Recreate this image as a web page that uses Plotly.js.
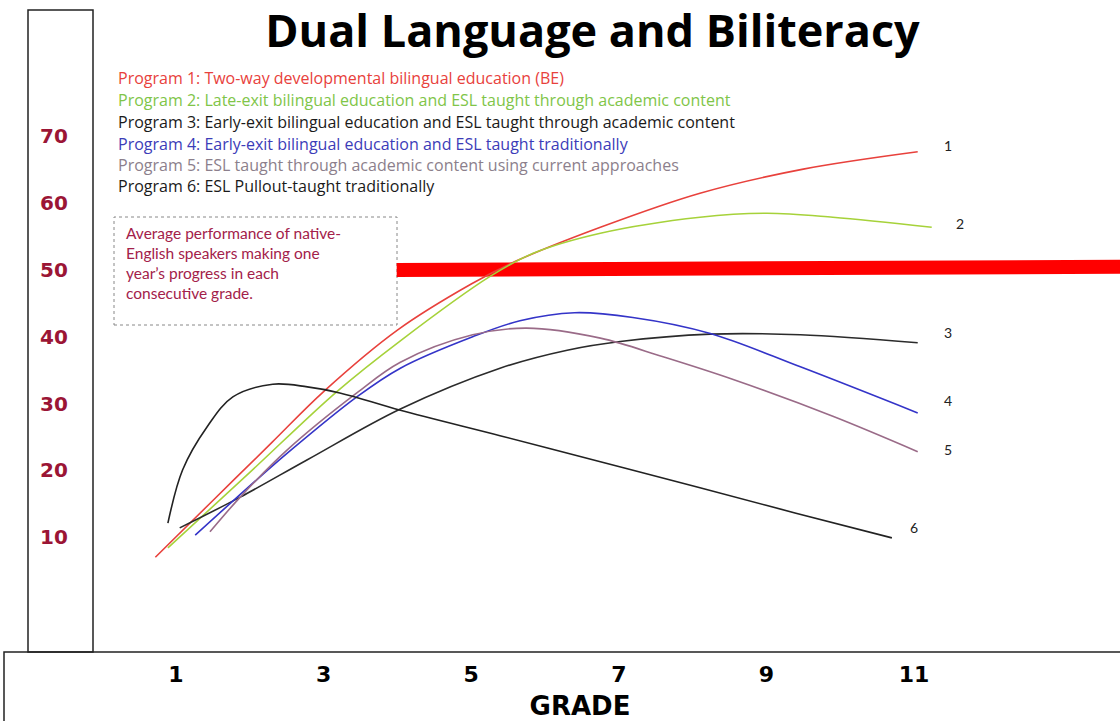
<!DOCTYPE html>
<html>
<head>
<meta charset="utf-8">
<script src="https://cdn.plot.ly/plotly-3.0.1.min.js"></script>
<style>html,body{margin:0;padding:0;background:#fff;}#chart{width:1120px;height:721px;}</style>
</head>
<body>
<div id="chart"></div>
<script>
// ---- data (grade, score) ----
const gradeTicks = [1, 3, 5, 7, 9, 11];
const scoreTicks = [10, 20, 30, 40, 50, 60, 70];

const p1Grade = [0.72, 1.5, 2.3, 3.0, 4.0, 5.0, 5.6, 6.75, 8.1, 9.5, 11.05];
const p1Score = [7.0, 15.5, 24.2, 31.8, 41.0, 47.9, 51.3, 56.4, 61.5, 65.1, 67.7];

const p2Grade = [0.89, 2.0, 3.18, 4.04, 5.25, 5.84, 6.75, 8.1, 9.01, 9.9, 11.24];
const p2Score = [8.4, 19.7, 31.8, 39.4, 49.0, 52.5, 55.5, 57.9, 58.5, 57.9, 56.4];

const p3Grade = [1.05, 1.87, 2.78, 4.04, 5.39, 6.3, 7.02, 8.24, 9.46, 11.05];
const p3Score = [11.4, 16.0, 21.6, 29.2, 35.3, 38.0, 39.3, 40.4, 40.3, 39.1];

const p4Grade = [1.26, 1.83, 2.5, 3.45, 4.04, 5.02, 5.66, 6.4, 7.19, 8.24, 9.46, 11.05];
const p4Score = [10.3, 16.0, 22.5, 31.0, 35.3, 40.0, 42.4, 43.6, 42.9, 40.5, 35.5, 28.6];

const p5Grade = [1.46, 1.87, 2.5, 3.45, 4.04, 5.02, 5.75, 6.75, 7.6, 8.55, 9.9, 11.05];
const p5Score = [10.8, 16.0, 23.0, 31.6, 36.2, 40.3, 41.3, 39.8, 37.0, 33.6, 28.1, 22.8];

const p6Grade = [0.89, 1.09, 1.42, 1.77, 2.31, 2.78, 3.22, 4.04, 5.39, 6.75, 8.1, 9.4, 10.7];
const p6Score = [12.1, 20.1, 26.5, 31.0, 32.9, 32.5, 31.6, 29.0, 25.2, 21.3, 17.4, 13.6, 9.9];

const nativeGrade = [3.99, 13.8];
const nativeScore = [50, 50.5];

const programNames = [
  'Program 1: Two-way developmental bilingual education (BE)',
  'Program 2: Late-exit bilingual education and ESL taught through academic content',
  'Program 3: Early-exit bilingual education and ESL taught through academic content',
  'Program 4: Early-exit bilingual education and ESL taught traditionally',
  'Program 5: ESL taught through academic content using current approaches',
  'Program 6: ESL Pullout-taught traditionally'
];
const curveLabels = ['1', '2', '3', '4', '5', '6'];

// ---- styles ----
const lineColors = ['#e8413c', '#a6d23a', '#2b2b2b', '#3434c8', '#9a6b88', '#222222'];
const textColors = ['#e8413c', '#80c548', '#1a1a1a', '#3c3cb8', '#8c7f8c', '#1a1a1a'];

const xs = [p1Grade, p2Grade, p3Grade, p4Grade, p5Grade, p6Grade];
const ys = [p1Score, p2Score, p3Score, p4Score, p5Score, p6Score];

const traces = [{
  x: nativeGrade, y: nativeScore, mode: 'lines', name: 'Native-English speakers',
  line: {color: '#ff0000', width: 14}, showlegend: false, hoverinfo: 'skip'
}];
for (let i = 0; i < 6; i++) {
  traces.push({
    x: xs[i], y: ys[i], mode: 'lines', name: programNames[i],
    line: {color: lineColors[i], width: 1.6, shape: 'spline', smoothing: 1},
    showlegend: false
  });
}

const W = 1080, H = 652, L = 40;
const px = v => (v - L) / W;
const py = v => 1 - v / H;

const legendY = [78, 100, 122, 144, 165, 186];
const annotations = [];
for (let i = 0; i < 6; i++) {
  annotations.push({
    xref: 'paper', yref: 'paper', x: px(116), y: py(legendY[i]),
    xanchor: 'left', yanchor: 'middle', showarrow: false,
    text: programNames[i],
    font: {family: 'Open Sans', size: 16, color: textColors[i]}
  });
}
annotations.push({
  xref: 'paper', yref: 'paper', x: px(124), y: py(222),
  xanchor: 'left', yanchor: 'top', showarrow: false, align: 'left',
  text: 'Average performance of native-<br>English speakers making one<br>year\u2019s progress in each<br>consecutive grade.',
  font: {family: 'Lato', size: 15.5, color: '#a3214a'}
});
const labelPos = [[11.46, 68.7], [11.62, 56.9], [11.46, 40.7], [11.46, 30.5], [11.46, 23.1], [11.0, 11.4]];
for (let i = 0; i < 6; i++) {
  annotations.push({
    x: labelPos[i][0], y: labelPos[i][1], xref: 'x', yref: 'y', showarrow: false,
    text: curveLabels[i], font: {family: 'Lato', size: 14, color: '#222'}
  });
}

const shapes = [
  {type: 'rect', xref: 'paper', yref: 'paper', x0: px(28), x1: px(93), y0: 0, y1: py(10),
   line: {color: '#222', width: 1.5}, fillcolor: 'rgba(0,0,0,0)', layer: 'below'},
  {type: 'rect', xref: 'paper', yref: 'paper', x0: px(4), x1: px(1125), y0: py(730), y1: 0,
   line: {color: '#222', width: 1.5}, fillcolor: 'rgba(0,0,0,0)', layer: 'below'},
  {type: 'rect', xref: 'paper', yref: 'paper', x0: px(114), x1: px(397), y0: py(325), y1: py(217),
   line: {color: '#888', width: 1, dash: 'dot'}, fillcolor: 'rgba(0,0,0,0)', layer: 'below'}
];

const layout = {
  width: 1120, height: 721,
  margin: {l: L, r: 0, t: 0, b: 69, pad: 0},
  paper_bgcolor: '#fff', plot_bgcolor: 'rgba(0,0,0,0)',
  showlegend: false, hovermode: false,
  title: {
    text: 'Dual Language and Biliteracy',
    font: {family: 'Open Sans', size: 45, weight: 700, color: '#000'},
    x: 0.529, xanchor: 'center', xref: 'container',
    y: 0.979, yanchor: 'top', yref: 'container', pad: {t: 0, b: 0}
  },
  xaxis: {
    range: [-0.843, 13.791], tickvals: gradeTicks, ticktext: gradeTicks.map(String),
    showgrid: false, zeroline: false, showline: false, ticks: '',
    tickfont: {family: 'DejaVu Sans', size: 22, weight: 700, color: '#000'},
    ticklabelstandoff: 7, automargin: false, fixedrange: true,
    title: {text: 'GRADE', font: {family: 'DejaVu Sans', size: 26, weight: 700, color: '#000'}, standoff: 10}
  },
  yaxis: {
    range: [-7.186, 90.419], tickvals: scoreTicks, ticktext: scoreTicks.map(String),
    showgrid: false, zeroline: false, showline: false, ticks: '',
    ticklabelposition: 'inside', ticklabelstandoff: -3,
    tickfont: {family: 'DejaVu Sans', size: 20, weight: 700, color: '#9b1535'},
    automargin: false, fixedrange: true
  },
  shapes: shapes,
  annotations: annotations
};

Plotly.newPlot('chart', traces, layout, {displayModeBar: false, staticPlot: true});
</script>
</body>
</html>
